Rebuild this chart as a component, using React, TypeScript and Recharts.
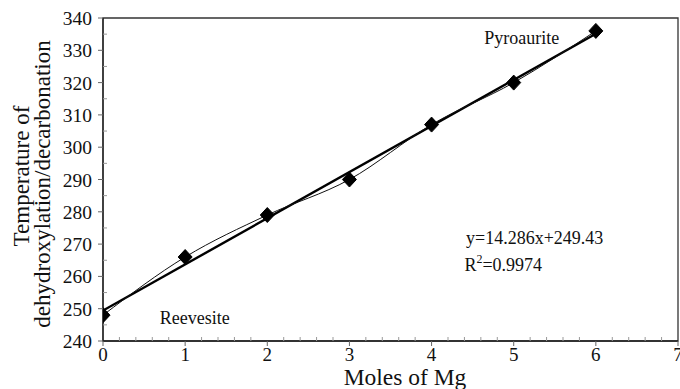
import React from 'react';
import { LineChart, Line, XAxis, YAxis, ReferenceArea, ReferenceDot } from 'recharts';

const molesMg = [0, 1, 2, 3, 4, 5, 6];
const temperature = [248, 266, 279, 290, 307, 320, 336];
const trendX = [0, 6];
const trendY = [249.43, 335.146];
const xTicks = [0, 0.2, 0.4, 0.6, 0.8, 1, 1.2, 1.4, 1.6, 1.8, 2, 2.2, 2.4, 2.6, 2.8, 3, 3.2, 3.4, 3.6, 3.8, 4, 4.2, 4.4, 4.6, 4.8, 5, 5.2, 5.4, 5.6, 5.8, 6, 6.2, 6.4, 6.6, 6.8, 7];
const yTicks = [240, 245, 250, 255, 260, 265, 270, 275, 280, 285, 290, 295, 300, 305, 310, 315, 320, 325, 330, 335, 340];
const xTitle = 'Moles of Mg';
const yTitle1 = 'Temperature of';
const yTitle2 = 'dehydroxylation/decarbonation';
const labelReevesite = 'Reevesite';
const labelPyroaurite = 'Pyroaurite';
const equationText = 'y=14.286x+249.43';
const r2Value = '=0.9974';

const FONT = '"Liberation Serif", "Times New Roman", serif';

const measured = molesMg.map((x, i) => ({ x, y: temperature[i] }));
const trend = trendX.map((x, i) => ({ x, y: trendY[i] }));

const isMajor = (v: number) => Math.abs(v - Math.round(v)) < 1e-6;

const XTick = (props: any) => {
  const { x, y, payload } = props;
  const v = payload.value;
  const major = isMajor(v);
  return (
    <g>
      {major ? (
        <line x1={x} x2={x} y1={y} y2={y + 5} stroke="#666" strokeWidth={1} />
      ) : (
        <line x1={x} x2={x} y1={y} y2={y - 4} stroke="#999" strokeWidth={1} />
      )}
      {major && (
        <text x={x} y={y + 20} textAnchor="middle" fontSize={19} fontFamily={FONT} fill="#111">
          {Math.round(v)}
        </text>
      )}
    </g>
  );
};

const YTick = (props: any) => {
  const { x, y, payload } = props;
  const v = payload.value;
  const major = Math.round(v) % 10 === 0;
  return (
    <g>
      {major ? (
        <line x1={x} x2={x - 5} y1={y} y2={y} stroke="#666" strokeWidth={1} />
      ) : (
        <line x1={x} x2={x + 4} y1={y} y2={y} stroke="#999" strokeWidth={1} />
      )}
      {major && (
        <text x={x - 11} y={y + 7} textAnchor="end" fontSize={19.5} fontFamily={FONT} fill="#111">
          {v}
        </text>
      )}
    </g>
  );
};

const Diamond = (props: any) => {
  const { cx, cy } = props;
  if (cx == null || cy == null) return null;
  return (
    <polygon
      points={`${cx},${cy - 7.5} ${cx + 7},${cy} ${cx},${cy + 7.5} ${cx - 7},${cy}`}
      fill="#000"
      stroke="#000"
    />
  );
};

const XTitle = () => (
  <text x={405} y={385} textAnchor="middle" fontSize={23.5} fontFamily={FONT} fill="#111">
    {xTitle}
  </text>
);

const YTitle = () => (
  <g>
    <text x={29} y={176} transform="rotate(-90, 29, 176)" textAnchor="middle" fontSize={23} fontFamily={FONT} fill="#111">
      {yTitle1}
    </text>
    <text x={50} y={184} transform="rotate(-90, 50, 184)" textAnchor="middle" fontSize={23} fontFamily={FONT} fill="#111">
      {yTitle2}
    </text>
  </g>
);

const TextAt = (text: string, dy: number) => (props: any) => {
  const { viewBox } = props;
  return (
    <text x={viewBox.x} y={viewBox.y + dy} textAnchor="start" fontSize={18} fontFamily={FONT} fill="#111">
      {text}
    </text>
  );
};

const R2Label = (props: any) => {
  const { viewBox } = props;
  return (
    <text x={viewBox.x} y={viewBox.y + 6} textAnchor="start" fontSize={18} fontFamily={FONT} fill="#111">
      R<tspan fontSize={12} dy={-8}>2</tspan>
      <tspan dy={8}>{r2Value}</tspan>
    </text>
  );
};

export default function App() {
  return (
    <div style={{ position: 'absolute', left: 0, top: 0, background: '#fff' }}>
      <LineChart width={680} height={389} margin={{ top: 18, right: 2, bottom: 0, left: 0 }}>
        <XAxis
          dataKey="x"
          type="number"
          domain={[0, 7]}
          ticks={xTicks}
          interval={0}
          tickSize={0}
          tickMargin={0}
          tickLine={false}
          tick={<XTick />}
          height={48}
          axisLine={{ stroke: '#222', strokeWidth: 1.3 }}
          label={{ content: <XTitle /> } as any}
          allowDataOverflow
        />
        <YAxis
          dataKey="y"
          type="number"
          domain={[240, 340]}
          ticks={yTicks}
          interval={0}
          tickSize={0}
          tickMargin={0}
          tickLine={false}
          tick={<YTick />}
          width={103}
          axisLine={{ stroke: '#222', strokeWidth: 1.3 }}
          label={{ content: <YTitle /> } as any}
          allowDataOverflow
        />
        <ReferenceArea x1={0} x2={7} y1={240} y2={340} fill="none" stroke="#333" strokeWidth={1.3} ifOverflow="visible" />
        <Line
          data={trend}
          dataKey="y"
          type="linear"
          stroke="#000"
          strokeWidth={2.4}
          dot={false}
          activeDot={false}
          isAnimationActive={false}
        />
        <Line
          data={measured}
          dataKey="y"
          type="monotone"
          stroke="#111"
          strokeWidth={1}
          dot={<Diamond />}
          activeDot={false}
          isAnimationActive={false}
        />
        <ReferenceDot x={0.69} y={247.1} r={0} fill="none" stroke="none" label={{ content: TextAt(labelReevesite, 6) } as any} />
        <ReferenceDot x={4.64} y={333.8} r={0} fill="none" stroke="none" label={{ content: TextAt(labelPyroaurite, 6) } as any} />
        <ReferenceDot x={4.42} y={272} r={0} fill="none" stroke="none" label={{ content: TextAt(equationText, 6) } as any} />
        <ReferenceDot x={4.4} y={263.5} r={0} fill="none" stroke="none" label={{ content: <R2Label /> } as any} />
      </LineChart>
    </div>
  );
}
